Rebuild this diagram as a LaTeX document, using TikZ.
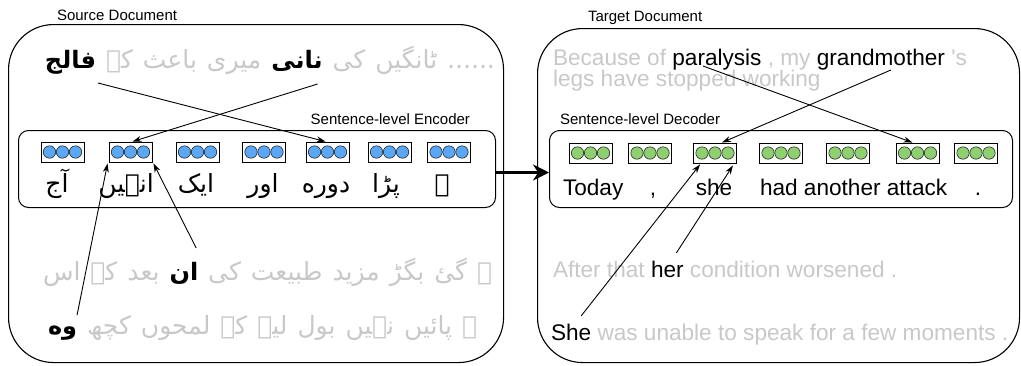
\documentclass[tikz,border=0pt]{standalone}
\usepackage{fontspec}
\setmainfont{Liberation Sans}[Ligatures=TeXOff]
\newfontfamily\ur[Script=Arabic]{DejaVu Sans}
\newcommand\urspace{\spaceskip 10pt\relax}
\usetikzlibrary{arrows.meta,calc}
\definecolor{lg}{RGB}{200,200,200}
\definecolor{cblue}{RGB}{90,168,245}
\definecolor{cgreen}{RGB}{142,207,112}
\begin{document}
\begin{tikzpicture}[x=1pt,y=-1pt,
  docbox/.style={draw,line width=1.1pt,rounded corners=45pt,inner sep=0pt,anchor=north west},
  encbox/.style={draw,line width=1pt,rounded corners=10pt,inner sep=0pt,anchor=north west},
  cellbox/.style={draw,line width=0.9pt,fill=white,minimum width=43pt,minimum height=20pt,inner sep=0pt},
  dotc/.style={draw=black!85,line width=0.6pt},
  lab/.style={font=\fontsize{15}{18}\selectfont,inner sep=0pt,outer sep=0pt,anchor=base west},
  en/.style={font=\fontsize{22.6}{26}\selectfont,inner sep=0pt,outer sep=0pt,anchor=base west},
  urt/.style={font=\ur\fontsize{25}{29}\selectfont\urspace,inner sep=0pt,outer sep=0pt,anchor=base west},
  urb/.style={font=\ur\bfseries\fontsize{24}{29}\selectfont,inner sep=0pt,outer sep=0pt,anchor=base west},
  link/.style={line width=0.9pt,-{Stealth[length=9pt,width=6pt]}},
  bigarrow/.style={line width=3pt,-{Stealth[length=16pt,width=16pt]}}
]
\useasboundingbox (0,0) rectangle (1021,365);

% document boxes
\node[docbox,minimum width=495pt,minimum height=338pt] (src) at (8,24) {};
\node[docbox,minimum width=482pt,minimum height=334pt] (tgt) at (537,28) {};
\node[lab] (srclab) at (57,20) {Source Document};
\node[lab] (tgtlab) at (588,21) {Target Document};

% encoder / decoder boxes
\node[encbox,minimum width=477pt,minimum height=77pt] (enc) at (18,130) {};
\node[encbox,minimum width=463pt,minimum height=77pt] (dec) at (549,130) {};
\node[lab,anchor=base east] (enclab) at (470,124) {Sentence-level Encoder};
\node[lab] (declab) at (560,124) {Sentence-level Decoder};

% cells
\foreach \i/\x in {1/62.5,2/130.5,3/197.5,4/264,5/327.5,6/389.5,7/449}{
  \node[cellbox] (e\i) at (\x,152) {};
  \foreach \d in {-13,0,13} \draw[dotc,fill=cblue] ([xshift=\d pt]e\i.center) circle[radius=6.2pt];
}
\foreach \i/\x in {1/590.5,2/650,3/715,4/781,5/848,6/917.5,7/976}{
  \node[cellbox] (d\i) at (\x,153) {};
  \foreach \d in {-13,0,13} \draw[dotc,fill=cgreen] ([xshift=\d pt]d\i.center) circle[radius=6.2pt];
}

% encoder words
\node[urt,anchor=base] (w1) at (57,192) {آج};
\node[urt,anchor=base] (w2) at (126,192) {انہیں};
\node[urt,anchor=base] (w3) at (196,192) {ایک};
\node[urt,anchor=base] (w4) at (263,192) {اور};
\node[urt,anchor=base] (w5) at (326,192) {دوره};
\node[urt,anchor=base] (w6) at (386,192) {پڑا};
\node[urt,anchor=base] (w7) at (442,192) {۔};

% source lines
\node[urb] (falij) at (45,68) {فالج};
\node[urt,lg] (s1b) at ([xshift=10pt]falij.base east) {کے باعث میری};
\node[urb] (nani) at ([xshift=10pt]s1b.base east) {نانی};
\node[urt,lg] (s1d) at ([xshift=10pt]nani.base east) {کی ٹانگیں ......};

\node[urt,lg] (s3a) at (43,280) {اس کے بعد};
\node[urb] (an) at ([xshift=10pt]s3a.base east) {ان};
\node[urt,lg] (s3c) at ([xshift=10pt]an.base east) {کی طبیعت مزید بگڑ گئ ۔};

\node[urb] (wah) at (48,334) {وه};
\node[urt,lg] (s4b) at ([xshift=10pt]wah.base east) {کچھ لمحوں کے لیے بول نہیں پائیں ۔};

% decoder words
\node[en] (today) at (563,195) {Today};
\node[en,anchor=base] (comma) at (653,195) {,};
\node[en,anchor=base] (she) at (714,195) {she};
\node[en] (had) at (760,195) {had another attack};
\node[en,anchor=base] (period) at (978,195) {.};

% target lines
\node[en,lg] (t1a) at (553,65) {Because of};
\node[en] (para) at ([xshift=6.3pt]t1a.base east) {paralysis};
\node[en,lg] (t1c) at ([xshift=6.3pt]para.base east) {, my};
\node[en] (grand) at ([xshift=6.3pt]t1c.base east) {grandmother};
\node[en,lg] (t1e) at ([xshift=6.3pt]grand.base east) {'s};
\node[en,lg] (t2) at (553,86) {legs have stopped working};

\node[en,lg] (a1) at (553,277) {After that};
\node[en] (her) at ([xshift=6.3pt]a1.base east) {her};
\node[en,lg] (a3) at ([xshift=6.3pt]her.base east) {condition worsened .};

\node[en] (She) at (551,340) {She};
\node[en,lg] (sh2) at ([xshift=6.3pt]She.base east) {was unable to speak for a few moments .};

% links source
\draw[link] ([xshift=2pt,yshift=-15pt]falij.base east) -- ([xshift=-2pt]e5.north);
\draw[link] ([xshift=-5pt,yshift=-16pt]nani.base east) -- ([xshift=2pt]e2.north);
\draw[link] ([yshift=19pt]wah.base east) -- ([xshift=-1pt,yshift=-1pt]e2.south west);
\draw[link] ([xshift=-2pt,yshift=32pt]an.base east) -- ([xshift=1pt,yshift=-1pt]e2.south east);

% links target
\draw[link] ([xshift=-14pt,yshift=-1pt]para.base) -- ([xshift=-5pt]d6.north);
\draw[link] ([xshift=10pt,yshift=-5pt]grand.base) -- ([xshift=7pt]d3.north);
\draw[link] ([xshift=10pt,yshift=24pt]She.base) -- ([xshift=7pt,yshift=-1pt]d3.south west);
\draw[link] ([xshift=9pt,yshift=24pt]her.base) -- ([xshift=-4pt,yshift=-2pt]d3.south east);

% big arrow
\draw[bigarrow] ([yshift=-3.5pt]enc.east) -- ([yshift=-3.5pt]dec.west);
\end{tikzpicture}
\end{document}
